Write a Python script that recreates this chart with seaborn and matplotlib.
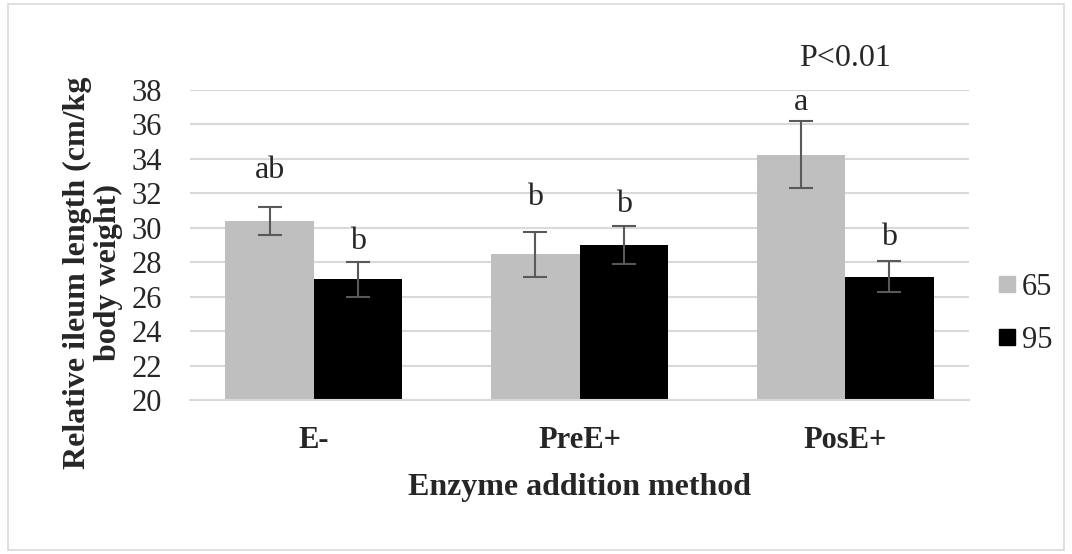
import pandas as pd
import numpy as np
import matplotlib
matplotlib.use("Agg")
import matplotlib.pyplot as plt
from matplotlib.patches import Rectangle
from matplotlib.lines import Line2D
import seaborn as sns

# --- Dane ---
methods = ["E-", "PreE+", "PosE+"]
groups = ["65", "95"]
means_65 = [30.4, 28.45, 34.25]
means_95 = [27.0, 29.0, 27.15]
err_65 = [0.8, 1.28, 1.95]
err_95 = [1.0, 1.1, 0.9]
letters_65 = ["ab", "b", "a"]
letters_95 = ["b", "b", "b"]
# odstep liter nad slupkami bledu (jednostki osi y)
pad_65 = [2.1, 2.0, 1.1]
pad_95 = [1.2, 1.25, 1.4]

df = pd.DataFrame({
    "method": methods * 2,
    "group": ["65"] * 3 + ["95"] * 3,
    "value": means_65 + means_95,
})

sns.set_style("white")
plt.rcParams["font.family"] = ["Liberation Serif", "DejaVu Serif"]

fig = plt.figure(figsize=(10.72, 5.54), dpi=100)
ax = fig.add_axes([190 / 1072, 1 - 400 / 554, (969 - 190) / 1072, (400 - 90) / 554])

sns.barplot(data=df, x="method", y="value", hue="group", order=methods,
            hue_order=groups, palette=["#bfbfbf", "#000000"], width=2 / 3,
            errorbar=None, linewidth=0, ax=ax, legend=False)

ax.set_ylim(20, 38)
ax.set_yticks(np.arange(20, 39, 2))
ax.yaxis.grid(True, color="#d9d9d9", linewidth=1.5)
ax.set_axisbelow(True)
for s in ["top", "right", "left"]:
    ax.spines[s].set_visible(False)
ax.spines["bottom"].set_color("#d9d9d9")
ax.spines["bottom"].set_linewidth(1.5)
ax.tick_params(axis="both", length=0, labelsize=22)
ax.tick_params(axis="x", pad=19)
ax.tick_params(axis="y", pad=20)
for lab in ax.get_xticklabels():
    lab.set_fontweight("bold")

# slupki bledu i litery
for cont, means, errs, lets, pads in zip(ax.containers,
                                         [means_65, means_95], [err_65, err_95],
                                         [letters_65, letters_95], [pad_65, pad_95]):
    xs = [p.get_x() + p.get_width() / 2 for p in cont.patches]
    ax.errorbar(xs, means, yerr=errs, fmt="none", ecolor="#595959",
                elinewidth=1.5, capsize=8.5, capthick=1.5)
    for x, m, e, l, p in zip(xs, means, errs, lets, pads):
        ax.text(x, m + e + p, l, ha="center", va="center", fontsize=23)

ax.text(2, 39.85, "P<0.01", ha="center", va="center", fontsize=23, clip_on=False)

ax.set_xlabel("Enzyme addition method", fontsize=23, fontweight="bold", labelpad=13)
ax.set_ylabel("Relative ileum length (cm/kg\nbody weight)", fontsize=23,
              fontweight="bold", linespacing=1.1)
ax.yaxis.set_label_coords(-0.086, 0.41)

handles = [Line2D([], [], marker="s", linestyle="none", markersize=11.5,
                  markerfacecolor=c, markeredgecolor=c) for c in ["#bfbfbf", "#000000"]]
fig.legend(handles, groups, loc="center left", bbox_to_anchor=(995 / 1072, 1 - 314 / 554),
           frameon=False, fontsize=22, handletextpad=0.08, labelspacing=0.78,
           handlelength=0.8, borderpad=0, borderaxespad=0)

# ramka obszaru wykresu
fig.patches.append(Rectangle((8 / 1072, 4 / 554), 1056 / 1072, 546 / 554,
                             transform=fig.transFigure, fill=False,
                             edgecolor="#d9d9d9", linewidth=1.2))

fig.savefig("out.png", dpi=100)
